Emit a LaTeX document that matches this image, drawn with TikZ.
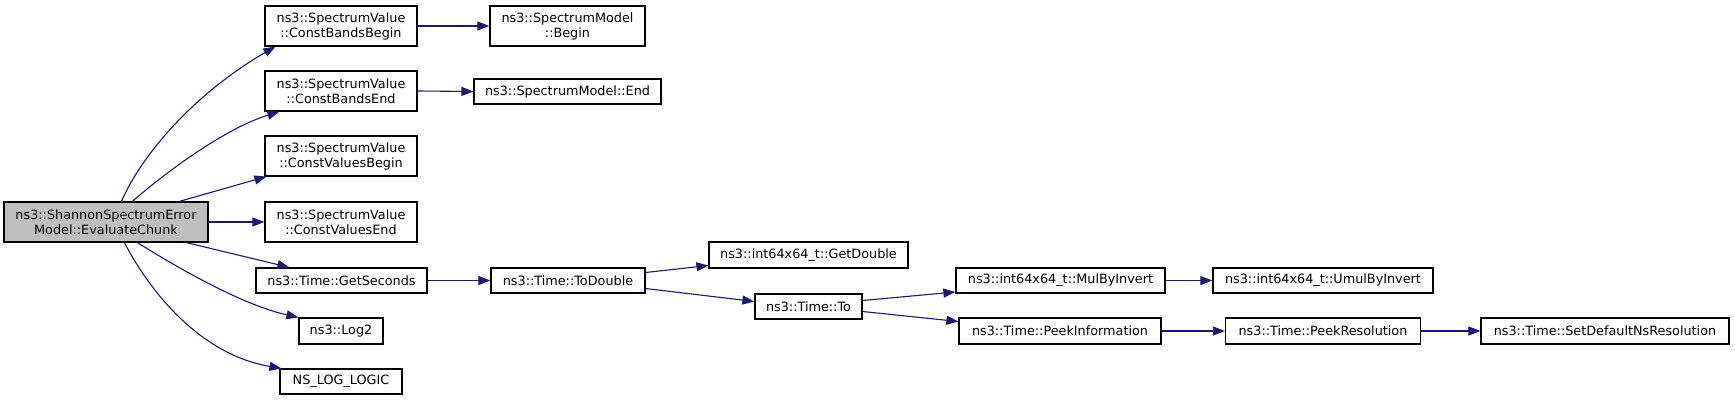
\documentclass[tikz,border=0pt]{standalone}
\usepackage{fontspec}
\setmainfont{DejaVu Sans}
\usetikzlibrary{arrows.meta,calc}
\definecolor{edgeblue}{HTML}{191970}
\definecolor{mainfill}{HTML}{BFBFBF}
\tikzset{
  fn/.style={draw=black, line width=1.2pt, fill=white, inner sep=0pt, align=center,
    font=\fontsize{12.8}{15}\selectfont},
  mainfn/.style={fn, fill=mainfill},
  call/.style={draw=edgeblue, line width=1.1pt, -{Triangle[length=12pt,width=9pt]}}
}
\begin{document}
\begin{tikzpicture}[x=1pt,y=-1pt]
\useasboundingbox[fill=white] (0,0) rectangle (1735,401);
% nodes: centre, width, height
\node[mainfn, minimum width=204, minimum height=40] (main) at (106,222) {ns3::ShannonSpectrumError\\Model::EvaluateChunk};
\node[fn, minimum width=152, minimum height=40] (cbb) at (341,26) {ns3::SpectrumValue\\::ConstBandsBegin};
\node[fn, minimum width=155, minimum height=40] (smb) at (567.5,26) {ns3::SpectrumModel\\::Begin};
\node[fn, minimum width=152, minimum height=40] (cbe) at (341,91) {ns3::SpectrumValue\\::ConstBandsEnd};
\node[fn, minimum width=187, minimum height=25] (sme) at (567.5,91.5) {ns3::SpectrumModel::End};
\node[fn, minimum width=152, minimum height=40] (cvb) at (341,156) {ns3::SpectrumValue\\::ConstValuesBegin};
\node[fn, minimum width=152, minimum height=40] (cve) at (341,222) {ns3::SpectrumValue\\::ConstValuesEnd};
\node[fn, minimum width=171, minimum height=25] (gs) at (341.5,280.5) {ns3::Time::GetSeconds};
\node[fn, minimum width=154, minimum height=25] (td) at (568,280.5) {ns3::Time::ToDouble};
\node[fn, minimum width=84, minimum height=26] (log2) at (341,331) {ns3::Log2};
\node[fn, minimum width=122, minimum height=25] (nll) at (341,381.5) {NS\_LOG\_LOGIC};
\node[fn, minimum width=199, minimum height=26] (gd) at (808.5,255) {ns3::int64x64\_t::GetDouble};
\node[fn, minimum width=107, minimum height=25] (to) at (808.5,306.5) {ns3::Time::To};
\node[fn, minimum width=209, minimum height=25] (mbi) at (1060.5,280.5) {ns3::int64x64\_t::MulByInvert};
\node[fn, minimum width=202, minimum height=26] (pi) at (1060,331) {ns3::Time::PeekInformation};
\node[fn, minimum width=220, minimum height=25] (umbi) at (1323,280.5) {ns3::int64x64\_t::UmulByInvert};
\node[fn, minimum width=195, minimum height=26] (pr) at (1323,331) {ns3::Time::PeekResolution};
\node[fn, minimum width=248, minimum height=26] (sdns) at (1605,331) {ns3::Time::SetDefaultNsResolution};
% connectors from main
\draw[call] ($(main.north west)+(118,0)$) .. controls +(23,-52) and +(-76,44) .. ($(cbb.south west)+(11,0)$);
\draw[call] ($(main.north west)+(129,0)$) .. controls +(32,-28) and +(-55,17) .. ($(cbe.south west)+(15,0)$);
\draw[call] ($(main.north west)+(176,0)$) -- ($(cvb.south west)+(2,0)$);
\draw[call] (main.east) -- (cve.west);
\draw[call] ($(main.south west)+(183,0)$) -- ($(gs.north west)+(34,0)$);
\draw[call] ($(main.south west)+(134,0)$) .. controls +(32,20) and +(-59,-13) .. (log2.north west);
\draw[call] ($(main.south west)+(121,0)$) .. controls +(25,48) and +(-82,-14) .. ($(nll.north west)+(2,0)$);
% other connectors
\draw[call] (cbb.east) -- (smb.west);
\draw[call] (cbe.east) -- (sme.west);
\draw[call] (gs.east) -- (td.west);
\draw[call] ($(td.east)+(0,-8)$) -- ($(gd.west)+(0,10.5)$);
\draw[call] ($(td.east)+(0,8)$) -- ($(to.west)+(0,-5)$);
\draw[call] ($(to.east)+(0,-6)$) -- ($(mbi.west)+(0,11.5)$);
\draw[call] ($(to.east)+(0,5)$) -- ($(pi.west)+(0,-9.5)$);
\draw[call] (mbi.east) -- (umbi.west);
\draw[call] (pi.east) -- (pr.west);
\draw[call] (pr.east) -- (sdns.west);
\end{tikzpicture}
\end{document}
